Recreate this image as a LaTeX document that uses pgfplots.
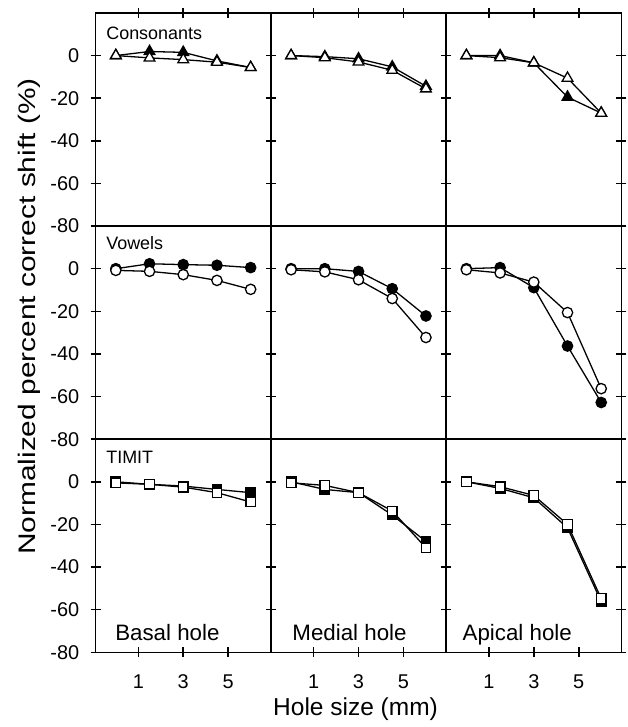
\documentclass[border=0pt]{standalone}
\usepackage{fontspec}
\setmainfont{Liberation Sans}
\usepackage{graphicx}
\usepackage{pgfplots}
\pgfplotsset{compat=1.18}
\usepgfplotslibrary{groupplots}

\pgfplotsset{
  panel/.style={
    scale only axis, width=88pt, height=107pt,
    xmin=-0.9, xmax=6.9, ymin=-80, ymax=20,
    xtick={1,3,5}, ytick={-80,-60,-40,-20,0},
    tick align=center, major tick length=5pt,
    line width=0.75pt, tick style={black, line width=0.75pt},
    /pgf/number format/assume math mode=true,
    tick label style={font=\fontsize{10}{12}\selectfont},
    yticklabel style={xshift=-2pt},
    xticklabel style={yshift=-5pt},
  },
  filled/.style={black, line width=0.65pt, mark options={fill=black, solid}},
  open/.style={black, line width=0.65pt, mark options={fill=white, solid}},
  tri/.style={mark=triangle*, mark size=3.1pt},
  circ/.style={mark=*, mark size=2.6pt},
  sq/.style={mark=square*, mark size=2.4pt},
}
\tikzset{
  lab/.style={anchor=base west, inner sep=0pt, font=\fontsize{9}{10}\selectfont},
  hole/.style={anchor=base west, inner sep=0pt, font=\fontsize{11.2}{13}\selectfont},
}

\begin{document}
\begin{tikzpicture}
\begin{groupplot}[
    group style={group size=3 by 3, horizontal sep=0pt, vertical sep=0pt,
                 yticklabels at=edge left},
    panel,
  ]
  % --- consonants
  \nextgroupplot[xtick pos=upper, xticklabels={}]
  \addplot[filled, tri] coordinates {(0,0) (1.5,1.9) (3,1.5) (4.5,-2.5) (6,-5.6)};
  \addplot[open, tri] coordinates {(0,0) (1.5,-1.1) (3,-1.9) (4.5,-3.1) (6,-5.6)};
  \node[lab] at (rel axis cs:0.057,0.875) {Consonants};

  \nextgroupplot[xtick pos=upper, xticklabels={}]
  \addplot[filled, tri] coordinates {(0,0) (1.5,-0.5) (3,-1.5) (4.5,-5.3) (6,-14.4)};
  \addplot[open, tri] coordinates {(0,0) (1.5,-1) (3,-3) (4.5,-6.9) (6,-15.6)};

  \nextgroupplot[xtick pos=upper, xticklabels={}]
  \addplot[filled, tri] coordinates {(0,0) (1.5,0) (3,-3.4) (4.5,-19.5) (6,-27)};
  \addplot[open, tri] coordinates {(0,0) (1.5,-1) (3,-3.4) (4.5,-10.6) (6,-27)};

  % --- vowels
  \nextgroupplot[xtick=\empty,
    ylabel={\scalebox{1.25}[1]{Normalized percent correct shift (\%)}},
    ylabel style={font=\fontsize{12}{14}\selectfont,
                  at={(axis description cs:-0.38,0.575)}, anchor=center}]
  \addplot[filled, circ] coordinates {(0,0) (1.5,2.3) (3,1.9) (4.5,1.6) (6,0.5)};
  \addplot[open, circ] coordinates {(0,-0.8) (1.5,-1.25) (3,-2.8) (4.5,-5.5) (6,-9.7)};
  \node[lab] at (rel axis cs:0.057,0.888) {Vowels};

  \nextgroupplot[xtick=\empty]
  \addplot[filled, circ] coordinates {(0,0) (1.5,0) (3,-1.3) (4.5,-9.4) (6,-22.2)};
  \addplot[open, circ] coordinates {(0,-0.5) (1.5,-1.5) (3,-5.2) (4.5,-14) (6,-32.3)};

  \nextgroupplot[xtick=\empty]
  \addplot[filled, circ] coordinates {(0,0) (1.5,0.5) (3,-8.9) (4.5,-36.3) (6,-62.8)};
  \addplot[open, circ] coordinates {(0,-0.5) (1.5,-2) (3,-6.3) (4.5,-20.6) (6,-56.3)};

  % --- TIMIT
  \nextgroupplot[xtick pos=lower]
  \addplot[filled, sq] coordinates {(0,0) (1.5,-1.2) (3,-2) (4.5,-3.6) (6,-5.1)};
  \addplot[open, sq] coordinates {(0,-0.5) (1.5,-1.2) (3,-2.5) (4.5,-5.1) (6,-9.5)};
  \node[lab] at (rel axis cs:0.057,0.888) {TIMIT};
  \node[hole] at (rel axis cs:0.108,0.057) {Basal hole};

  \nextgroupplot[xtick pos=lower,
    xlabel={Hole size (mm)},
    xlabel style={font=\fontsize{12.3}{14}\selectfont,
                  at={(axis description cs:0.483,-0.266)}, anchor=center}]
  \addplot[filled, sq] coordinates {(0,0) (1.5,-3.6) (3,-5.1) (4.5,-15.6) (6,-28)};
  \addplot[open, sq] coordinates {(0,-0.5) (1.5,-1.7) (3,-5.1) (4.5,-13.7) (6,-31)};
  \node[hole] at (rel axis cs:0.119,0.057) {Medial hole};

  \nextgroupplot[xtick pos=lower]
  \addplot[filled, sq] coordinates {(0,0) (1.5,-3.1) (3,-7.5) (4.5,-21.6) (6,-56.3)};
  \addplot[open, sq] coordinates {(0,0) (1.5,-2.3) (3,-6.4) (4.5,-20) (6,-54.8)};
  \node[hole] at (rel axis cs:0.09,0.057) {Apical hole};
\end{groupplot}
\path ([shift={(-48pt,6.5pt)}]group c1r1.north west)
  rectangle ([shift={(0.5pt,-36pt)}]group c3r3.south east);
\end{tikzpicture}
\end{document}
